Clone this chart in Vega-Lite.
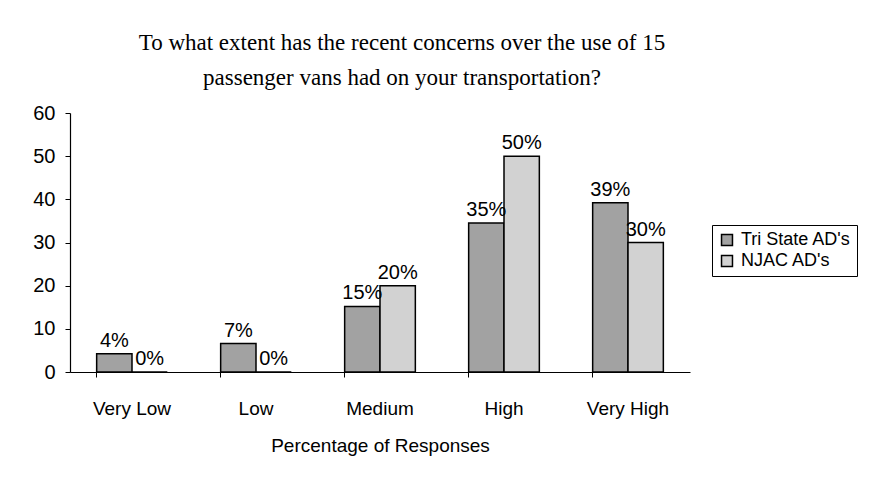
{
  "$schema": "https://vega.github.io/schema/vega-lite/v6.json",
  "width": 620,
  "height": 259,
  "autosize": {"type": "none"},
  "padding": {"left": 70, "top": 113, "right": 184, "bottom": 112},
  "background": "white",
  "title": {
    "text": ["To what extent has the recent concerns over the use of 15", "passenger vans had on your transportation?"],
    "font": "Liberation Serif",
    "fontSize": 23,
    "fontWeight": "normal",
    "lineHeight": 35,
    "color": "black",
    "anchor": "middle",
    "dx": 22,
    "offset": 13
  },
  "data": {
    "values": [
      {"category": "Very Low", "series": "Tri State AD's", "value": 4.2, "label": "4%"},
      {"category": "Very Low", "series": "NJAC AD's", "value": 0, "label": "0%"},
      {"category": "Low", "series": "Tri State AD's", "value": 6.6, "label": "7%"},
      {"category": "Low", "series": "NJAC AD's", "value": 0, "label": "0%"},
      {"category": "Medium", "series": "Tri State AD's", "value": 15.2, "label": "15%"},
      {"category": "Medium", "series": "NJAC AD's", "value": 20, "label": "20%"},
      {"category": "High", "series": "Tri State AD's", "value": 34.5, "label": "35%"},
      {"category": "High", "series": "NJAC AD's", "value": 50, "label": "50%"},
      {"category": "Very High", "series": "Tri State AD's", "value": 39.2, "label": "39%"},
      {"category": "Very High", "series": "NJAC AD's", "value": 30, "label": "30%"}
    ]
  },
  "encoding": {
    "x": {
      "field": "category",
      "type": "nominal",
      "sort": ["Very Low", "Low", "Medium", "High", "Very High"],
      "scale": {"paddingInner": 0.43, "paddingOuter": 0.215},
      "axis": {
        "title": "Percentage of Responses",
        "titleFont": "Liberation Sans",
        "titleFontSize": 19,
        "titleFontWeight": "normal",
        "titleColor": "black",
        "titlePadding": 18,
        "labelFont": "Liberation Sans",
        "labelFontSize": 19,
        "labelColor": "black",
        "labelAngle": 0,
        "labelPadding": 22,
        "domainColor": "black",
        "domainWidth": 1.2,
        "tickColor": "black",
        "tickSize": 5,
        "bandPosition": 0
      }
    },
    "xOffset": {"field": "series", "sort": ["Tri State AD's", "NJAC AD's"], "scale": {"paddingInner": 0}},
    "y": {
      "field": "value",
      "type": "quantitative",
      "scale": {"domain": [0, 60]},
      "axis": {
        "title": null,
        "values": [0, 10, 20, 30, 40, 50, 60],
        "grid": false,
        "labelFont": "Liberation Sans",
        "labelFontSize": 20,
        "labelColor": "black",
        "labelPadding": 10,
        "domainColor": "black",
        "domainWidth": 1.2,
        "tickColor": "black",
        "tickSize": 5
      }
    }
  },
  "layer": [
    {
      "mark": {"type": "bar", "stroke": "black", "strokeWidth": 1.5},
      "encoding": {
        "color": {
          "field": "series",
          "type": "nominal",
          "sort": ["Tri State AD's", "NJAC AD's"],
          "scale": {"domain": ["Tri State AD's", "NJAC AD's"], "range": ["#a2a2a2", "#d2d2d2"]},
          "legend": {
            "title": null,
            "orient": "none",
            "legendX": 642,
            "legendY": 112,
            "strokeColor": "black",
            "padding": 6,
            "symbolType": "square",
            "symbolSize": 120,
            "symbolStrokeColor": "black",
            "symbolStrokeWidth": 1.5,
            "labelFont": "Liberation Sans",
            "labelFontSize": 18,
            "labelColor": "black",
            "labelOffset": 5,
            "rowPadding": 3
          }
        }
      }
    },
    {
      "mark": {"type": "text", "baseline": "bottom", "dy": -3, "font": "Liberation Sans", "fontSize": 20, "color": "black"},
      "encoding": {"text": {"field": "label"}}
    }
  ],
  "config": {"view": {"stroke": null}}
}
